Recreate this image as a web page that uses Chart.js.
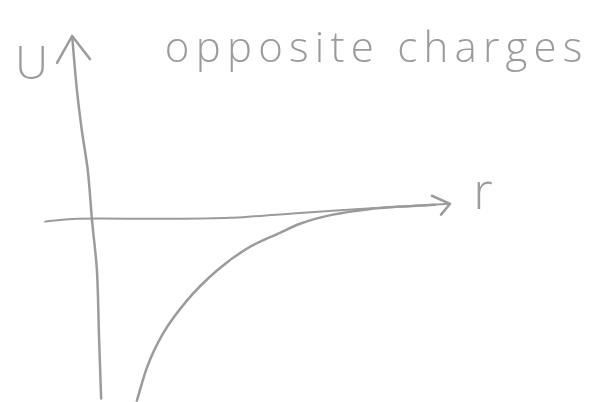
<!DOCTYPE html>
<html>
<head>
<meta charset="utf-8">
<script src="https://cdn.jsdelivr.net/npm/chart.js@4.4.1/dist/chart.umd.min.js"></script>
<style>
  html, body { margin: 0; padding: 0; background: #fff; }
  #wrap { width: 595px; height: 402px; }
</style>
</head>
<body>
<div id="wrap"><canvas id="sketch"></canvas></div>
<script>
// potential energy U(r) for two opposite charges, sketch units
const curveR = [1.41, 1.70, 2.16, 2.84, 3.70, 4.56, 5.50, 6.07, 7.01, 7.99, 8.93, 9.93];
const curveU = [-5.26, -4.31, -3.34, -2.40, -1.54, -0.91, -0.46, -0.20, 0.06, 0.21, 0.29, 0.34];

// hand drawn axes (slightly wobbly)
const rAxisX = [-1.21, -0.30, 2.16, 4.07, 6.07, 8.36, 10.36];
const rAxisY = [-0.14, -0.06, -0.06, -0.03, 0.11, 0.26, 0.37];
const uAxisX = [0.39, 0.33, 0.27, 0.13, 0.01, -0.16, -0.30, -0.44];
const uAxisY = [-5.2, -3.46, -1.54, -0.11, 1.31, 2.46, 3.6, 5.17];

// arrow heads: wing, tip, wing
const rArrowX = [9.84, 10.36, 10.10];
const rArrowY = [0.60, 0.37, 0.06];
const uArrowX = [-0.87, -0.44, 0.07];
const uArrowY = [4.40, 5.17, 4.51];

const titleText = 'opposite charges';
const uLabel = 'U';
const rLabel = 'r';

const ink = '#9b9b9b';

function pts(xs, ys) {
    return xs.map((x, i) => ({ x: x, y: ys[i] }));
}

function stroke(data, width, tension) {
    return {
        data: data,
        borderColor: ink,
        borderWidth: width,
        pointRadius: 0,
        fill: false,
        tension: tension,
        borderCapStyle: 'round',
        borderJoinStyle: 'round'
    };
}

// labels written next to the axes
const handLabels = {
    id: 'handLabels',
    afterDatasetsDraw(chart) {
        const ctx = chart.ctx;
        const xs = chart.scales.x, ys = chart.scales.y;
        ctx.save();
        ctx.fillStyle = ink;
        ctx.textBaseline = 'alphabetic';

        // title spread across its span
        ctx.font = '300 42px "Open Sans", "DejaVu Sans", sans-serif';
        const left = xs.getPixelForValue(2.21);
        const right = xs.getPixelForValue(14.14);
        const w = ctx.measureText(titleText).width;
        ctx.letterSpacing = ((right - left - w) / (titleText.length - 1)) + 'px';
        ctx.fillText(titleText, left, ys.getPixelForValue(4.43));
        ctx.letterSpacing = '0px';

        ctx.font = '300 46px "Open Sans", "DejaVu Sans", sans-serif';
        ctx.textAlign = 'center';
        ctx.fillText(uLabel, xs.getPixelForValue(-1.6), ys.getPixelForValue(3.95));

        ctx.font = '300 50px "Open Sans", "DejaVu Sans", sans-serif';
        ctx.fillText(rLabel, xs.getPixelForValue(11.3), ys.getPixelForValue(0.22));
        ctx.restore();
    }
};

const curve = stroke(pts(curveR, curveU), 2.5, 0.4);
curve.cubicInterpolationMode = 'monotone';

new Chart(document.getElementById('sketch'), {
    type: 'line',
    data: {
        datasets: [
            stroke(pts(rAxisX, rAxisY), 2, 0.3),
            stroke(pts(uAxisX, uAxisY), 2.5, 0.3),
            stroke(pts(rArrowX, rArrowY), 2.5, 0),
            stroke(pts(uArrowX, uArrowY), 2.5, 0),
            curve
        ]
    },
    options: {
        responsive: true,
        maintainAspectRatio: false,
        animation: false,
        layout: { padding: 0 },
        plugins: {
            legend: { display: false },
            tooltip: { enabled: false }
        },
        scales: {
            x: { type: 'linear', min: -2.5, max: 14.5, display: false },
            y: { type: 'linear', min: -5.3, max: 6.2, display: false }
        }
    },
    plugins: [handLabels]
});
</script>
</body>
</html>
